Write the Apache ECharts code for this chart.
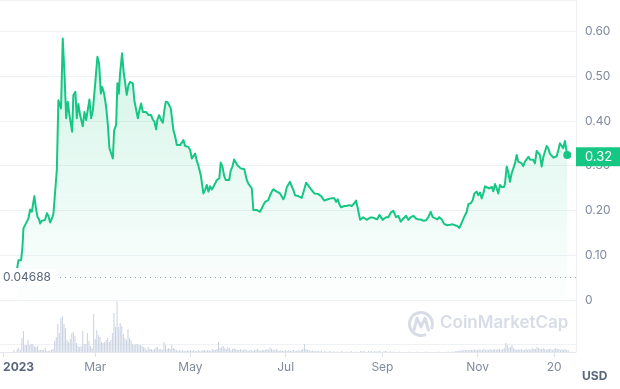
<!DOCTYPE html>
<html><head><meta charset="utf-8">
<script src="https://cdn.jsdelivr.net/npm/echarts@6/dist/echarts.min.js"></script>
<style>html,body{margin:0;padding:0;background:#fff}#c{width:620px;height:389px}</style>
</head><body><div id="c"></div>
<script>
// Day of year 2023 (0 = Jan 1) for each price reading
const priceDay = [9.0,9.8,10.9,11.5,12.4,13.0,14.1,15.2,16.2,17.3,18.4,19.4,20.0,20.9,22.0,23.1,23.7,24.8,25.8,26.9,28.0,29.0,30.1,31.2,32.2,33.3,33.9,34.4,35.4,36.5,37.1,38.2,39.3,40.4,41.4,42.5,44.2,45.0,46.3,47.2,48.2,49.3,51.0,52.1,53.2,54.2,55.3,56.4,57.5,58.9,60.4,61.5,62.6,63.4,64.7,66.0,67.1,68.1,69.2,70.3,71.1,72.4,73.2,74.1,74.9,76.2,77.1,78.1,79.2,80.3,81.3,82.3,83.1,84.1,85.2,86.3,87.3,88.4,89.5,90.5,91.6,93.1,94.8,95.9,96.9,98.0,98.8,99.9,101.2,102.3,103.3,104.2,105.5,106.5,107.4,108.1,109.1,110.2,111.3,112.3,113.4,114.5,115.5,116.6,117.7,118.7,119.8,120.9,121.9,123.0,124.1,125.1,126.6,127.3,128.3,129.4,130.5,131.5,132.6,133.7,134.7,135.8,136.9,137.9,138.5,139.4,140.5,141.5,142.6,143.7,144.8,145.8,146.9,148.0,149.0,150.1,151.2,152.2,153.3,154.5,155.4,156.1,157.1,158.2,159.3,160.3,161.4,162.5,163.5,164.6,165.7,166.7,167.8,168.9,169.9,171.0,172.1,173.1,174.2,175.3,176.3,177.4,178.5,179.5,180.6,181.7,182.7,183.8,184.9,185.9,187.0,188.1,189.1,190.2,191.3,192.3,193.4,194.1,195.2,196.2,197.3,198.4,199.4,200.5,201.6,202.6,203.7,204.8,205.8,206.9,208.0,209.0,210.1,211.2,212.2,213.3,214.4,215.4,216.5,217.6,218.6,220.1,221.8,223.3,224.4,225.0,226.1,227.2,228.7,229.7,230.8,231.9,232.9,234.0,235.1,236.8,238.3,239.7,241.0,242.1,243.2,244.2,245.3,246.8,248.3,250.0,251.7,253.2,254.7,256.4,258.1,259.6,261.1,262.8,264.5,266.0,267.5,269.2,270.9,272.4,273.9,275.2,276.7,278.2,279.4,281.0,282.5,284.2,286.3,288.0,289.5,291.0,292.3,293.8,295.3,297.0,298.0,299.6,300.8,301.9,303.4,304.4,305.5,306.6,307.6,308.7,309.8,311.5,313.0,314.0,315.1,316.2,317.2,318.3,319.4,320.9,321.5,322.6,323.6,324.7,325.8,326.8,327.9,329.0,330.0,331.1,332.2,333.2,334.3,335.4,336.5,337.5,338.6,339.6,340.7,341.8,342.9,343.9,345.0,346.1,347.1,348.2,349.2,350.3,351.4,352.5,353.6,354.6,355.7,356.7,357.8,358.8,359.9,361.4];
const priceUSD = [0.071,0.089,0.093,0.089,0.119,0.160,0.158,0.175,0.182,0.202,0.197,0.219,0.232,0.208,0.186,0.179,0.171,0.177,0.175,0.179,0.194,0.188,0.173,0.182,0.192,0.194,0.268,0.290,0.446,0.450,0.428,0.584,0.506,0.406,0.443,0.413,0.376,0.458,0.465,0.406,0.438,0.413,0.388,0.420,0.402,0.406,0.448,0.406,0.424,0.480,0.543,0.528,0.461,0.476,0.461,0.431,0.391,0.339,0.336,0.316,0.379,0.391,0.484,0.461,0.505,0.551,0.513,0.515,0.458,0.480,0.487,0.491,0.484,0.445,0.446,0.406,0.424,0.439,0.420,0.424,0.420,0.413,0.413,0.403,0.398,0.381,0.402,0.413,0.402,0.396,0.424,0.443,0.441,0.439,0.428,0.431,0.379,0.365,0.346,0.350,0.346,0.350,0.357,0.344,0.346,0.342,0.335,0.316,0.320,0.327,0.310,0.300,0.279,0.279,0.238,0.246,0.257,0.242,0.254,0.247,0.253,0.260,0.268,0.264,0.272,0.307,0.298,0.279,0.268,0.272,0.268,0.289,0.298,0.314,0.313,0.301,0.301,0.294,0.294,0.292,0.294,0.268,0.260,0.257,0.249,0.201,0.199,0.201,0.205,0.197,0.205,0.212,0.219,0.216,0.223,0.234,0.242,0.247,0.249,0.242,0.246,0.238,0.240,0.225,0.234,0.252,0.254,0.264,0.254,0.246,0.234,0.237,0.232,0.229,0.228,0.230,0.253,0.262,0.257,0.252,0.247,0.246,0.238,0.240,0.237,0.238,0.232,0.234,0.222,0.219,0.225,0.223,0.227,0.225,0.227,0.219,0.225,0.214,0.207,0.210,0.210,0.210,0.212,0.210,0.212,0.216,0.222,0.205,0.179,0.175,0.185,0.185,0.179,0.176,0.184,0.184,0.182,0.180,0.190,0.188,0.179,0.175,0.185,0.185,0.195,0.199,0.185,0.188,0.175,0.182,0.188,0.179,0.185,0.188,0.182,0.180,0.180,0.177,0.178,0.185,0.197,0.185,0.183,0.180,0.185,0.180,0.170,0.167,0.168,0.169,0.167,0.165,0.161,0.173,0.185,0.197,0.214,0.216,0.223,0.238,0.242,0.234,0.240,0.227,0.238,0.254,0.252,0.249,0.253,0.243,0.259,0.249,0.238,0.257,0.252,0.253,0.260,0.298,0.286,0.264,0.283,0.286,0.305,0.324,0.309,0.310,0.305,0.299,0.309,0.313,0.320,0.314,0.316,0.313,0.305,0.333,0.331,0.324,0.298,0.320,0.324,0.344,0.339,0.327,0.324,0.318,0.316,0.321,0.335,0.350,0.353,0.339,0.355,0.324];

// Daily volume (arbitrary millions), one value per day starting at volumeStartDay
const volumeStartDay = 7;
const volumeM = [
 2,0,3,4,2,14,21,7,7,12,
 7,8,8,6,5,6,2,2,2,2,
 4,1,1,1.5,2,3,11,15,28,19,
 34,36,28,24,12,10,13,19,20,16,
 9,6,5,6,21,8,8,19,11,6,
 4,38,13,22,17,15,10,9,10,12,
 14,10,12,19,39,25,51,25,29,26,
 18,14,12,23,14,12,8,7,8,8,
 7,7,6,5,4,2,5,3,3,2,
 3,5,5,3,3,2,10,7,3,4,
 3,7,4,3,2,1,2,1,2,1,
 1,2,1,2,1,2,1,1,2,1,
 1,2,2,1,2,2,1,3,2,2,
 3,10,4,5,6,4,3,5,4,2,
 3,4,3,2,2,3,2,2,3,2,
 1,2,2,1,2,2,3,2,1,2,
 2,2,3,2,4,3,2,2,3,2,
 1,2,1,1,2,1,2,1,1,2,
 1,1,2,1,2,3,8,3,2,2,
 1,2,1,1,1,1,0.5,1,0,1,
 0.5,0,1,0.5,0,1,0,0.5,0,0,
 1,0,0,0.5,0,0,1,0,0,0.5,
 0,0,1,0.5,1,0.5,0,1,0.5,1,
 0,1,0.5,0.5,1,0.5,0,1,1,0.5,
 0,1,0,0.5,0,0,0,0.5,0,0,
 0,0,0,0.5,0,0,0,0,0.5,0,
 0,0,0,0,0.5,0,0,0,0,0,
 0,0,0.5,0,0,0,0,0,0.5,0,
 0,0.5,0,1,1,1.5,1,2,1.5,2,
 2,1.5,2,2,2,2.5,2,2,2.5,2,
 2,3,2,2.5,2,3,2,2.5,3,2,
 3,3,2,3,4,9,7,4,5,7,
 4,3,2,3,2,3,2,2,3,2,
 3,2,4,3,3,5,4,3,3,4,
 3,2,3,3,3,2,3,4,3,3,
 2,3,2,3,2,2
];

const tickDays = [0,59,120,181,243,304,353];
const tickLabels = ['2023','Mar','May','Jul','Sep','Nov','20'];
const lowPrice = 0.04688;

const GREEN = '#16c784';
const lastDay = priceDay[priceDay.length - 1];
const lastPrice = priceUSD[priceUSD.length - 1];
const FONT = 'Inter, sans-serif';

const chart = echarts.init(document.getElementById('c'), null, {renderer: 'canvas'});
chart.setOption({
  animation: false,
  grid: [
    {left: 0, right: 44, top: 0, height: 300},
    {left: 0, right: 44, top: 299, bottom: 37}
  ],
  xAxis: [
    {type: 'value', gridIndex: 0, min: -2, max: 367, show: false},
    {type: 'value', gridIndex: 1, min: -2, max: 367,
     axisLine: {onZero: false, lineStyle: {color: '#e6e9ef', width: 1}},
     axisTick: {customValues: tickDays, length: 5, lineStyle: {color: '#dfe3ea'}},
     axisLabel: {customValues: tickDays, margin: 9, color: '#808a9d', fontSize: 12, fontFamily: FONT,
       alignMinLabel: 'left',
       formatter: function (v) {
         const i = tickDays.indexOf(Math.round(v));
         if (i === 0) return '{b|' + tickLabels[0] + '}';
         return i >= 0 ? tickLabels[i] : '';
       },
       rich: {b: {fontWeight: 'bold', color: '#58667e', fontSize: 12, fontFamily: FONT}}},
     splitLine: {show: false}}
  ],
  yAxis: [
    {type: 'value', gridIndex: 0, position: 'right', min: 0, max: 0.67, interval: 0.1,
     axisLine: {show: true, onZero: false, lineStyle: {color: '#eff2f5'}},
     axisTick: {show: false},
     axisLabel: {showMaxLabel: false, margin: 9, color: '#808a9d', fontSize: 12, fontFamily: FONT,
       formatter: function (v) { return v === 0 ? '0' : v.toFixed(2); }},
     splitLine: {lineStyle: {color: '#eff2f5'}}},
    {type: 'value', gridIndex: 1, position: 'right', min: 0, max: 53,
     axisLine: {show: true, onZero: false, lineStyle: {color: '#eff2f5'}},
     axisTick: {show: false}, axisLabel: {show: false}, splitLine: {show: false}}
  ],
  series: [
    {
      type: 'bar', xAxisIndex: 1, yAxisIndex: 1, barWidth: 1, z: 3,
      itemStyle: {color: '#c9d1e1'},
      data: volumeM.map(function (v, i) { return [volumeStartDay + i, v]; }),
      markLine: {silent: true, symbol: 'none', z: 1, label: {show: false},
        lineStyle: {color: '#eff2f5', type: 'solid', width: 1},
        data: [{yAxis: 8}]}
    },
    {
      type: 'line', xAxisIndex: 0, yAxisIndex: 0, showSymbol: false, z: 4,
      lineStyle: {color: GREEN, width: 2, join: 'round'},
      itemStyle: {color: GREEN},
      areaStyle: {color: {type: 'linear', x: 0, y: 0, x2: 0, y2: 1, colorStops: [
        {offset: 0, color: 'rgba(22,199,132,0.28)'},
        {offset: 1, color: 'rgba(22,199,132,0.01)'}
      ]}},
      data: priceDay.map(function (d, i) { return [d, priceUSD[i]]; }),
      markLine: {silent: true, symbol: 'none', animation: false, z: 6,
        data: [
          {yAxis: lowPrice,
           lineStyle: {color: '#9aa2b1', type: [1, 4], width: 1},
           label: {show: true, position: 'insideStart', distance: 0, formatter: String(lowPrice),
             color: '#58667e', fontSize: 12, fontFamily: FONT, backgroundColor: '#fff', padding: [2, 5, 2, 3]}},
          {yAxis: lastPrice,
           lineStyle: {color: 'rgba(0,0,0,0)', width: 1, type: 'solid'},
           label: {show: true, position: 'end', distance: 0, formatter: lastPrice.toFixed(2),
             color: '#fff', fontSize: 13, fontFamily: FONT, backgroundColor: GREEN, padding: [3, 9, 3, 9]}}
        ]},
      markPoint: {silent: true, symbol: 'circle', symbolSize: 8, itemStyle: {color: GREEN},
        label: {show: false},
        data: [{coord: [lastDay, lastPrice]}]}
    }
  ],
  graphic: [
    {type: 'text', x: 582, y: 370, silent: true, style: {text: 'USD', fill: '#58667e', font: 'bold 12px ' + FONT}},
    {type: 'arc', silent: true,
     shape: {cx: 421, cy: 324, r: 11.5, startAngle: 70 * Math.PI / 180, endAngle: 380 * Math.PI / 180, clockwise: true},
     style: {stroke: '#d7dce6', lineWidth: 3, fill: null, lineCap: 'round'}},
    {type: 'polyline', silent: true,
     shape: {points: [[414, 330], [417, 318], [421, 327], [425, 318], [428.5, 330]]},
     style: {stroke: '#d7dce6', lineWidth: 3, fill: null, lineCap: 'round', lineJoin: 'round'}},
    {type: 'text', x: 440, y: 323, silent: true,
     style: {text: 'CoinMarketCap', fill: '#d7dce6', font: '600 17px ' + FONT, verticalAlign: 'middle'}}
  ]
});
</script>
</body></html>
